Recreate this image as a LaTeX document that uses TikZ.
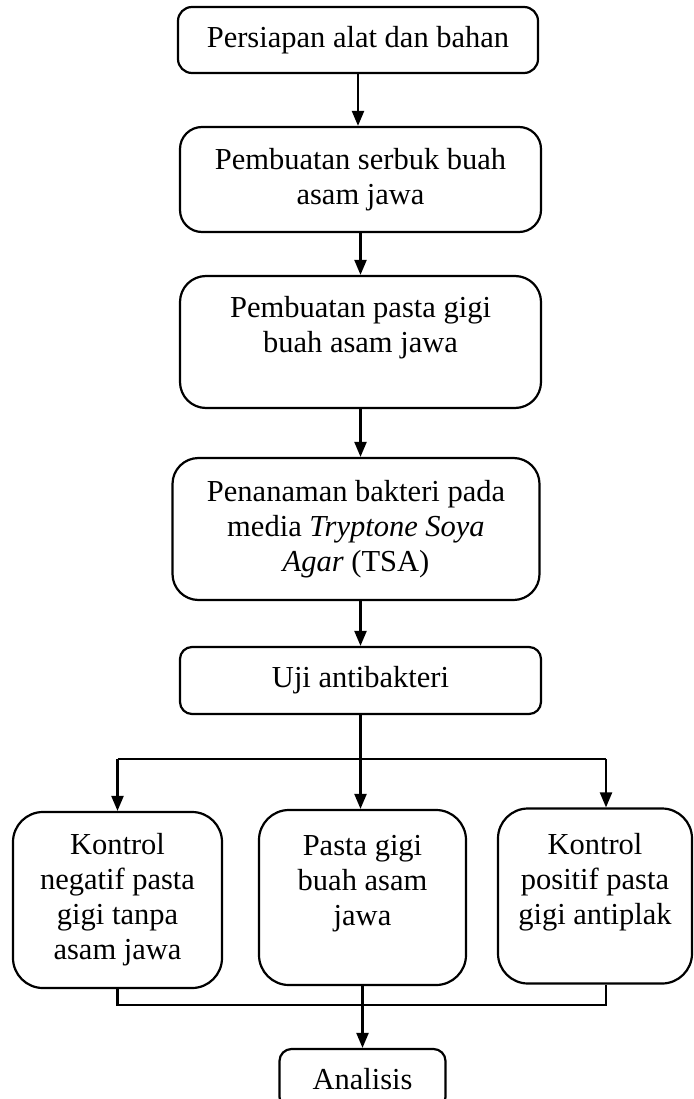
\documentclass[tikz,border=0pt]{standalone}
\usepackage{fontspec}
\setmainfont{Liberation Serif}
\usetikzlibrary{arrows.meta}
\begin{document}
\begin{tikzpicture}[x=1pt,y=-1pt,line width=2.2pt,
		every node/.style={font=\fontsize{30.5}{35}\selectfont,align=center},
		stepbox/.style={draw,rounded corners=#1,inner sep=0pt},
		stepbox/.default=22pt,
		flow/.style={-{Triangle[length=15pt,width=12pt]}}]
		\useasboundingbox (0,0) rectangle (693,1099);
		\node[stepbox=14pt,minimum width=360pt,minimum height=66pt] (persiapan) at (358,40) {Persiapan alat dan bahan};
		\node[stepbox,minimum width=361pt,minimum height=105pt] (serbuk) at (360.5,179.5) {Pembuatan serbuk buah\\asam jawa};
		\node[stepbox=26pt,minimum width=361pt,minimum height=132pt] (pasta) at (360.5,342) {Pembuatan pasta gigi\\buah asam jawa\\\mbox{}};
		\node[stepbox=26pt,minimum width=367pt,minimum height=142pt] (penanaman) at (356,529) {Penanaman bakteri pada\\media \textit{Tryptone Soya}\\\textit{Agar} (TSA)};
		\node[stepbox=12pt,minimum width=361pt,minimum height=67pt] (uji) at (360.5,680.5) {Uji antibakteri};
		\node[stepbox=30pt,minimum width=209pt,minimum height=176pt] (kneg) at (117.5,900) {Kontrol\\negatif pasta\\gigi tanpa\\asam jawa};
		\node[stepbox=30pt,minimum width=207pt,minimum height=175pt] (pgigi) at (362.5,897.5) {Pasta gigi\\buah asam\\jawa\\\mbox{}};
		\node[stepbox=30pt,minimum width=194pt,minimum height=175pt] (kpos) at (595,896) {Kontrol\\positif pasta\\gigi antiplak\\\mbox{}};
		\node[stepbox=12pt,minimum width=166pt,minimum height=60pt] (analisis) at (362.5,1079) {Analisis};
		\coordinate (cabang) at (360.5,759);
		\coordinate (kanan) at (606,759);
		\coordinate (gabung) at (362.5,1005);
		\draw[flow] (persiapan) -- (persiapan |- serbuk.north);
		\draw[flow] (serbuk) -- (pasta);
		\draw[flow] (pasta.south) -- (pasta.south |- penanaman.north);
		\draw[flow] (penanaman.south -| uji) -- (uji);
		\draw (uji) -- (cabang);
		\draw (kneg.north |- cabang) -- (kanan);
		\draw[flow] (kneg.north |- cabang) -- (kneg);
		\draw[flow] (cabang) -- (cabang |- pgigi.north);
		\draw[flow] (kanan) -- (kanan |- kpos.north);
		\draw (kneg) -- (kneg.south |- gabung) -- (kanan |- gabung) -- (kanan |- kpos.south);
		\draw[flow] (pgigi) -- (analisis);
\end{tikzpicture}
\end{document}
